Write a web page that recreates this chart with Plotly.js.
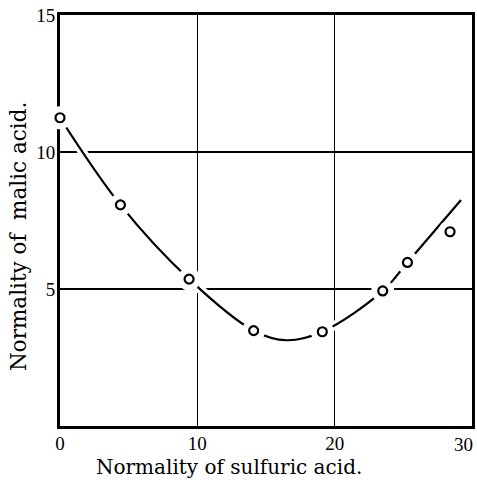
<!DOCTYPE html>
<html>
<head>
<meta charset="utf-8">
<script src="https://cdn.plot.ly/plotly-3.0.1.min.js"></script>
<style>html,body{margin:0;padding:0;background:#fff;}#chart{width:477px;height:482px;}</style>
</head>
<body>
<div id="chart"></div>
<script>
// Observed data points (normality of sulfuric acid vs. normality of malic acid)
const sulfuric = [0, 4.4, 9.4, 14.1, 19.1, 23.5, 25.3, 28.4];
const malic = [11.25, 8.07, 5.36, 3.48, 3.44, 4.93, 5.97, 7.09];
// Hand-drawn smooth curve
const curveX = [0, 4.4, 9.4, 14.1, 16.5, 19.1, 23.5, 25.3, 29.2];
const curveY = [11.25, 8.07, 5.36, 3.48, 3.13, 3.44, 4.93, 5.97, 8.25];
const xTicks = [0, 10, 20, 30];
const yTicks = [5, 10, 15];
const xTitle = 'Normality of sulfuric acid.';
const yTitle = 'Normality of  malic acid.';

const serif = '"DejaVu Serif", serif';
const tickFont = {family: '"Liberation Serif", serif', size: 19, color: '#000'};
const lastX = xTicks[xTicks.length - 1];
// last x label sits slightly inside the frame in the original print: drawn as an annotation
const xTickText = xTicks.map((v, i) => i === xTicks.length - 1 ? '' : String(v));
const traces = [
  {x: curveX, y: curveY, mode: 'lines', line: {shape: 'spline', color: '#fff', width: 9}, hoverinfo: 'skip', cliponaxis: false},
  {x: curveX, y: curveY, mode: 'lines', line: {shape: 'spline', color: '#000', width: 2.2}, hoverinfo: 'skip', cliponaxis: false},
  {x: sulfuric, y: malic, mode: 'markers', marker: {size: 23, color: '#fff', opacity: 1, line: {width: 0}}, hoverinfo: 'skip', cliponaxis: false},
  {x: sulfuric, y: malic, mode: 'markers', marker: {size: 9, color: '#fff', line: {color: '#000', width: 2.2}}, cliponaxis: false}
];
const layout = {
  width: 477, height: 482,
  margin: {l: 60, r: 5, t: 15, b: 56},
  showlegend: false,
  paper_bgcolor: '#fff', plot_bgcolor: '#fff',
  font: {family: serif, color: '#000'},
  xaxis: {
    range: [0, 30], tickvals: xTicks, ticktext: xTickText, ticks: '',
    showgrid: true, gridcolor: '#000', gridwidth: 1.3,
    showline: true, mirror: true, linecolor: '#000', linewidth: 3,
    zeroline: false, layer: 'below traces',
    tickfont: tickFont, ticklabeloverflow: 'allow', ticklabelstandoff: -2
  },
  yaxis: {
    range: [0, 15], tickvals: yTicks, ticktext: yTicks.map(String), ticks: '',
    showgrid: true, gridcolor: '#000', gridwidth: 2,
    showline: true, mirror: true, linecolor: '#000', linewidth: 3,
    zeroline: false, layer: 'below traces',
    tickfont: tickFont, ticklabeloverflow: 'allow', ticklabelstandoff: -2
  },
  annotations: [
    {
      text: String(lastX), xref: 'x', yref: 'paper', x: lastX, y: 0, xshift: -9,
      xanchor: 'center', yanchor: 'top', yshift: -6, showarrow: false,
      font: tickFont
    },
    {
      text: yTitle, xref: 'paper', yref: 'paper', x: -0.102, y: 0.462,
      xanchor: 'center', yanchor: 'middle', textangle: -90, showarrow: false,
      font: {family: serif, size: 21.5, color: '#000'}
    },
    {
      text: xTitle, xref: 'paper', yref: 'paper', x: 0.41, y: -0.1,
      xanchor: 'center', yanchor: 'middle', showarrow: false,
      font: {family: serif, size: 20, color: '#000'}
    }
  ]
};
Plotly.newPlot('chart', traces, layout, {displayModeBar: false, staticPlot: true});
</script>
</body>
</html>
